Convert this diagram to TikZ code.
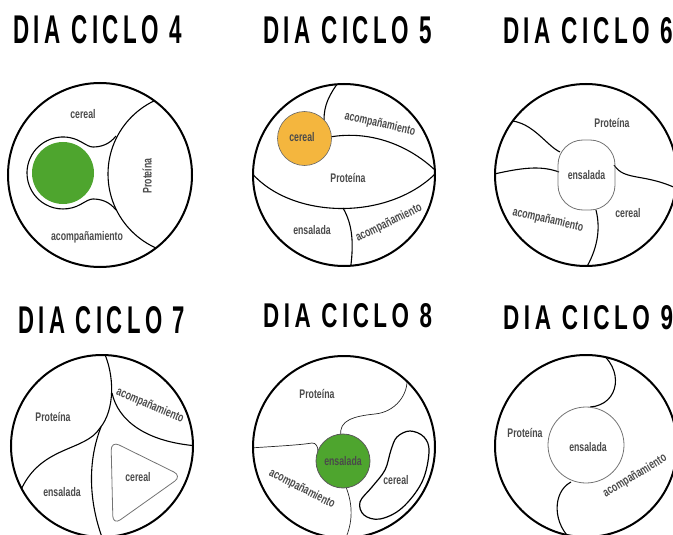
\documentclass[tikz,border=0pt]{standalone}
\usepackage{fontspec}
\usepackage{graphicx}
\newfontfamily\titfont[LetterSpace=20]{Liberation Sans}
\newfontfamily\labfont{Liberation Sans}
\definecolor{labgray}{HTML}{4a4a4a}
\definecolor{greenA}{RGB}{78,165,46}
\definecolor{orangeA}{RGB}{244,182,62}
\newcommand\mytitle[3]{\resizebox{#1pt}{#2pt}{\titfont\bfseries #3}}
\newcommand\lb[1]{\scalebox{0.7}[1]{#1}}
\tikzset{
  outer/.style={line width=2pt, draw=black},
  inner/.style={line width=1.1pt, draw=black},
  thinline/.style={line width=0.7pt, draw=black!85},
  soft/.style={line width=0.8pt, draw=black!55},
  lab/.style={font=\labfont\bfseries\fontsize{12.5}{13}\selectfont, text=labgray, inner sep=0pt},
  ttl/.style={anchor=north west, inner sep=0pt},
}
\begin{document}
\begin{tikzpicture}[x=1pt,y=-1pt]
\useasboundingbox (0,0) rectangle (673,535);
% ---------- titles
\node[ttl] (t4) at (13,15) {\mytitle{169}{28}{DIA CICLO 4}};
\node[ttl] (t5) at (263,16) {\mytitle{169}{27}{DIA CICLO 5}};
\node[ttl] (t6) at (503,17) {\mytitle{170}{26}{DIA CICLO 6}};
\node[ttl] (t7) at (18,306) {\mytitle{167}{27}{DIA CICLO 7}};
\node[ttl] (t8) at (263,303) {\mytitle{169}{24}{DIA CICLO 8}};
\node[ttl] (t9) at (503,305) {\mytitle{170}{24}{DIA CICLO 9}};

% ---------- circle 4
\coordinate (c4) at (100,175);
\begin{scope}
  \clip (c4) circle[radius=92];
  \draw[inner] (189,174) circle[radius=81];
\end{scope}
\fill[greenA] (63,173) circle[radius=31];
\draw[inner] (116,136) .. controls (109,145) and (100,147) .. (93,147)
  .. controls (90,147) and (87,145.3) .. (81,141.8)
  arc[start angle=-60,end angle=-300,radius=36]
  .. controls (87,200.7) and (90,199) .. (93,199)
  .. controls (100,199) and (109,201) .. (116,210);
\draw[outer] (c4) circle[radius=92];
\node[lab] (l4a) at (83,114) {\lb{cereal}};
\node[lab, rotate=90] (l4b) at (147,176) {\lb{Proteína}};
\node[lab] (l4c) at (87,237) {\lb{acompañamiento}};

% ---------- circle 5
\coordinate (c5) at (344,175);
\begin{scope}
  \clip (c5) circle[radius=91];
  \draw[inner] (340,80) .. controls (329,95) and (324,105) .. (324,120);
  \draw[inner] (330,137) .. controls (370,130) and (410,145) .. (438,173);
  \draw[inner] (250,171) .. controls (290,220) and (390,222) .. (438,171);
  \draw[inner] (343,208) .. controls (353,225) and (354,245) .. (350,272);
\end{scope}
\draw[line width=0.6pt, draw=black!60, fill=orangeA] (304.5,138.5) circle[radius=27];
\draw[outer] (c5) circle[radius=91];
\node[lab] (l5a) at (302,137) {\lb{cereal}};
\node[lab, rotate=-13] (l5b) at (380,124) {\lb{acompañamiento}};
\node[lab] (l5c) at (348,178) {\lb{Proteína}};
\node[lab] (l5d) at (312,230) {\lb{ensalada}};
\node[lab, rotate=26] (l5e) at (389,223) {\lb{acompañamiento}};

% ---------- circle 6
\coordinate (c6) at (586,175);
\begin{scope}
  \clip (c6) circle[radius=91];
  \draw[inner] (502,121) .. controls (530,117) and (545,145) .. (560,152);
  \draw[inner] (490,175) .. controls (520,168) and (540,165) .. (559,172);
  \draw[inner] (614,165) .. controls (625,182) and (645,172) .. (682,191);
  \draw[inner] (596,210) .. controls (601,230) and (597,250) .. (585,270);
\end{scope}
\node[soft, draw, rounded corners=25pt, minimum width=57pt, minimum height=70pt,
      lab] (l6a) at (586.5,175) {\lb{ensalada}};
\draw[outer] (c6) circle[radius=91];
\node[lab] (l6b) at (612,123) {\lb{Proteína}};
\node[lab] (l6c) at (628,213) {\lb{cereal}};
\node[lab, rotate=-13] (l6d) at (548,220) {\lb{acompañamiento}};

% ---------- circle 7
\coordinate (c7) at (102,446);
\begin{scope}
  \clip (c7) circle[radius=91];
  \draw[inner] (103,350) .. controls (115,375) and (115,410) .. (100,428);
  \draw[inner] (112,393) .. controls (118,420) and (145,442) .. (198,446);
  \draw[inner] (100,428) .. controls (85,452) and (40,445) .. (20,492);
  \draw[inner] (101,427) .. controls (88,460) and (88,500) .. (103,540);
\end{scope}
\draw[soft, rounded corners=9pt] (111,441) -- (182,476) -- (113,525) -- cycle;
\draw[outer] (c7) circle[radius=91];
\node[lab] (l7a) at (53,417) {\lb{Proteína}};
\node[lab, rotate=-23] (l7b) at (150,406) {\lb{acompañamiento}};
\node[lab] (l7c) at (62,492) {\lb{ensalada}};
\node[lab] (l7d) at (138,477) {\lb{cereal}};

% ---------- circle 8
\coordinate (c8) at (344,447);
\begin{scope}
  \clip (c8) circle[radius=91];
  \draw[thinline] (407,376) .. controls (409,395) and (395,412) .. (375,414)
     .. controls (355,416) and (338,420) .. (341,436);
  \draw[thinline] (250,448) .. controls (280,446) and (300,445) .. (312,443)
     .. controls (316,443) and (318,446) .. (318,452);
  \draw[thinline] (346,487) .. controls (353,505) and (353,522) .. (345,540);
\end{scope}
\draw[line width=1.2pt] plot[smooth cycle, tension=0.6] coordinates
  {(397,437) (410,431) (424,437) (429,452) (422,482) (402,508) (380,519) (364,515) (360,502) (372,487) (385,470) (391,450)};
\draw[line width=0.8pt, draw=black!65, fill=greenA] (343,461) circle[radius=27];
\draw[outer] (c8) circle[radius=91];
\node[lab] (l8a) at (343,461) {\lb{ensalada}};
\node[lab] (l8b) at (317,394) {\lb{Proteína}};
\node[lab] (l8c) at (396,480) {\lb{cereal}};
\node[lab, rotate=-27] (l8d) at (302,489) {\lb{acompañamiento}};

% ---------- circle 9
\coordinate (c9) at (586,446);
\begin{scope}
  \clip (c9) circle[radius=91];
  \draw[inner] (597,350) .. controls (625,368) and (620,405) .. (590,407);
  \draw[inner] (571,482) .. controls (552,492) and (552,525) .. (574,542);
\end{scope}
\draw[soft] (586,445) circle[radius=38];
\draw[outer] (c9) circle[radius=91];
\node[lab] (l9a) at (588,447) {\lb{ensalada}};
\node[lab] (l9b) at (525,433) {\lb{Proteína}};
\node[lab, rotate=31] (l9c) at (635,476) {\lb{acompañamiento}};
\end{tikzpicture}
\end{document}
